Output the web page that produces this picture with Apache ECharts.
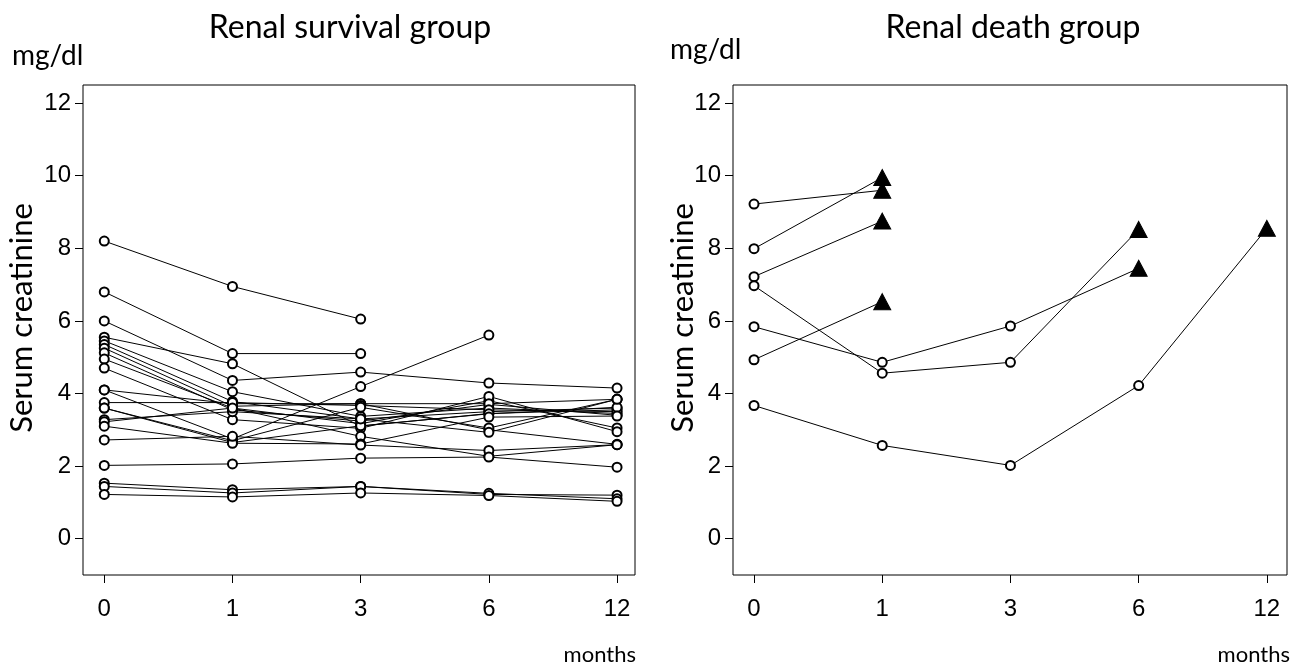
<!DOCTYPE html>
<html><head><meta charset="utf-8">
<script src="https://cdn.jsdelivr.net/npm/echarts@6/dist/echarts.min.js"></script>
<style>html,body{margin:0;padding:0;background:#fff}#c{width:1301px;height:670px}</style>
</head><body><div id="c"></div><script>
// x positions are the 5 visit times (equally spaced on the axis)
const monthLabels = ['0', '1', '3', '6', '12'];
const yTickValues = [0, 2, 4, 6, 8, 10, 12];
const panelTitles = ['Renal survival group', 'Renal death group'];

// Renal survival group: serum creatinine (mg/dl) at months 0,1,3,6,12
const survival = [
  [8.2, 6.95, 6.05, null, null],
  [6.8, 5.1, 5.1, null, null],
  [6.0, 4.36, 4.59, 4.29, 4.15],
  [5.55, 4.82, 3.1, 3.45, 3.55],
  [5.45, 4.05, 3.37, 3.6, 3.45],
  [5.35, 3.78, 3.3, 3.5, 3.6],
  [5.25, 3.65, 3.72, 3.0, 2.6],
  [5.12, 3.55, 3.24, 3.7, 3.4],
  [4.95, 3.6, 3.17, 3.8, 3.05],
  [4.7, 3.28, 3.04, 3.92, 2.95],
  [4.1, 2.75, 4.19, 5.61, null],
  [4.1, 3.72, 3.72, 3.72, 3.84],
  [3.75, 3.75, 3.67, 3.55, 3.5],
  [3.6, 2.7, 3.62, 3.05, 3.84],
  [3.6, 2.65, 3.11, 3.44, 3.62],
  [3.28, 3.5, 3.3, 2.93, 3.84],
  [3.22, 3.6, 2.82, 2.27, 2.59],
  [3.1, 2.63, 2.61, 3.35, 3.38],
  [2.72, 2.82, 2.58, 2.43, 2.59],
  [2.02, 2.06, 2.22, 2.25, 1.97],
  [1.53, 1.35, 1.44, 1.22, 1.2],
  [1.44, 1.26, 1.44, 1.25, 1.1],
  [1.22, 1.15, 1.26, 1.19, 1.03]
];

// Renal death group: last value of each patient is the renal death (triangle)
const death = [
  [9.22, 9.6, null, null, null],
  [7.99, 9.95, null, null, null],
  [7.22, 8.75, null, null, null],
  [4.93, 6.53, null, null, null],
  [6.97, 4.56, 4.86, 8.52, null],
  [5.84, 4.86, 5.86, 7.45, null],
  [3.67, 2.57, 2.02, 4.22, 8.55]
];

const FONT_T = 'Lato';
const FONT_N = 'Liberation Sans';

function toData(row, markLast) {
  const pts = [];
  row.forEach((v, i) => { if (v !== null) pts.push([i, v]); });
  return pts.map((p, k) => {
    if (markLast && k === pts.length - 1) {
      return { value: p, symbol: 'triangle', symbolSize: [17, 16], itemStyle: { color: '#000', borderColor: '#000', borderWidth: 1 } };
    }
    return { value: p };
  });
}

const grids = [
  { left: 83, top: 85, width: 552, height: 490 },
  { left: 733, top: 85, width: 554, height: 490 }
];
const xMin = [-0.166, -0.164];
const xMax = [4.14, 4.157];

const xAxes = grids.map((g, i) => ({
  type: 'value', gridIndex: i, min: xMin[i], max: xMax[i], position: 'bottom',
  axisLine: { show: false, onZero: false }, splitLine: { show: false },
  axisTick: { show: true, length: 8, lineStyle: { color: '#000', width: 1 }, customValues: [0, 1, 2, 3, 4] },
  axisLabel: { customValues: [0, 1, 2, 3, 4], formatter: v => monthLabels[Math.round(v)], color: '#000', fontSize: 24, fontFamily: FONT_N, margin: 22 }
}));
const yAxes = grids.map((g, i) => ({
  type: 'value', gridIndex: i, min: -1, max: 12.5, position: 'left',
  axisLine: { show: false, onZero: false }, splitLine: { show: false },
  axisTick: { show: true, length: 8, lineStyle: { color: '#000', width: 1 }, customValues: yTickValues },
  axisLabel: { customValues: yTickValues, color: '#000', fontSize: 24, fontFamily: FONT_N, margin: 12 }
}));

const series = [];
survival.forEach((row, i) => series.push({
  type: 'line', xAxisIndex: 0, yAxisIndex: 0, data: toData(row, false),
  symbol: 'emptyCircle', symbolSize: 9, showSymbol: true, showAllSymbol: true,
  lineStyle: { color: '#000', width: 1 }, itemStyle: { color: '#000', borderColor: '#000', borderWidth: 0.8 },
  z: 2, silent: true
}));
death.forEach((row, i) => series.push({
  type: 'line', xAxisIndex: 1, yAxisIndex: 1, data: toData(row, true),
  symbol: 'emptyCircle', symbolSize: 9, showSymbol: true, showAllSymbol: true,
  lineStyle: { color: '#000', width: 1 }, itemStyle: { color: '#000', borderColor: '#000', borderWidth: 0.8 },
  z: 2, silent: true
}));

function txt(text, x, y, size, align, rot) {
  return { type: 'text', x: x, y: y, rotation: rot || 0, silent: true,
    style: { text: text, fontSize: size, fontFamily: FONT_T, fill: '#000', align: align || 'center', verticalAlign: 'middle' } };
}

const graphic = [
  txt(panelTitles[0], 350, 28, 32),
  txt(panelTitles[1], 1013, 28, 32),
  txt('mg/dl', 12, 56, 28, 'left'),
  txt('mg/dl', 670, 50, 28, 'left'),
  txt('Serum creatinine', 22, 318, 31, 'center', Math.PI / 2),
  txt('Serum creatinine', 683, 318, 31, 'center', Math.PI / 2),
  txt('months', 636, 655, 22, 'right'),
  txt('months', 1290, 655, 22, 'right')
];

const chart = echarts.init(document.getElementById('c'));
chart.setOption({
  animation: false,
  backgroundColor: '#fff',
  grid: grids.map(g => Object.assign({ show: true, borderColor: '#000', borderWidth: 1, backgroundColor: 'transparent' }, g)),
  xAxis: xAxes, yAxis: yAxes, series: series, graphic: graphic
});
</script></body></html>
